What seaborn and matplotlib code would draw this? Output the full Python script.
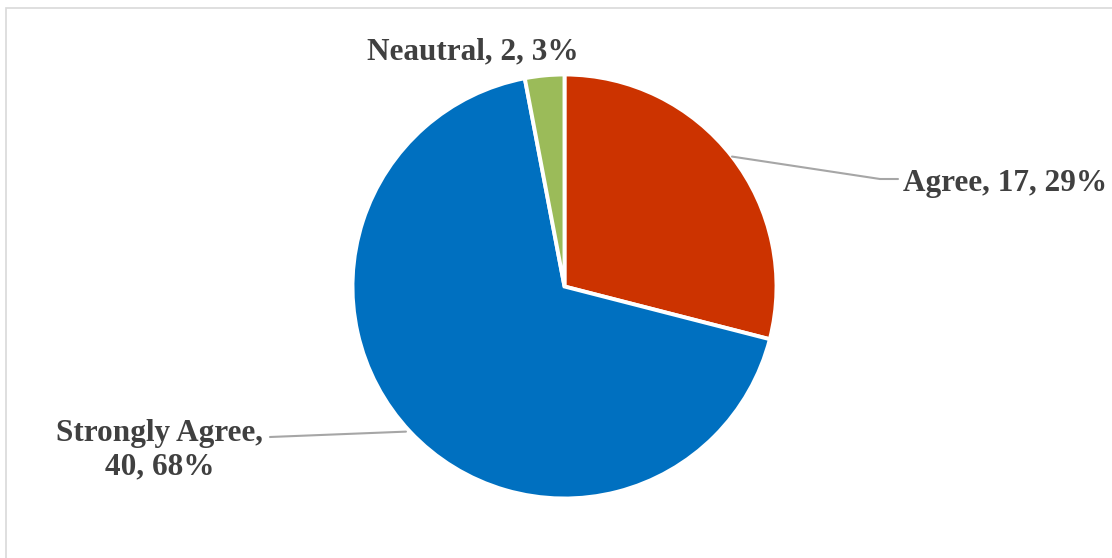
import numpy as np
import matplotlib
matplotlib.use("Agg")
import matplotlib.pyplot as plt
from matplotlib.patches import Rectangle
import seaborn as sns

sns.set_theme(style="white")
plt.rcParams['font.family'] = ['Liberation Serif', 'DejaVu Serif']

# data, in clockwise order from 12 o'clock (label spelling as in the source)
labels = ['Agree', 'Strongly Agree', 'Neautral']
counts = [17, 40, 2]
percents = [29, 68, 3]
colors = ['#CC3300', '#0070C0', '#9BBB59']

W, H = 1112, 558
CENTER = (564.5, H - 286.5)
RADIUS = 212
TEXT_COLOR = '#404040'
LINE_COLOR = '#A6A6A6'


def draw_pie():
    fig = plt.figure(figsize=(W / 100, H / 100), dpi=100)
    ax = fig.add_axes([0, 0, 1, 1])

    # chart area frame (runs off the right/bottom edge in the reference)
    fig.add_artist(Rectangle((6 / W, -0.1), 1.2, (H - 8) / H + 0.1,
                             transform=fig.transFigure, fill=False,
                             edgecolor='#D9D9D9', lw=1.2))

    # slice sizes follow the shown percentages
    wedges, _ = ax.pie(percents, colors=colors, startangle=90, counterclock=False,
                       center=CENTER, radius=RADIUS, frame=True,
                       wedgeprops=dict(edgecolor='white', linewidth=2.8))
    ax.set_xlim(0, W)
    ax.set_ylim(0, H)
    ax.set_aspect('equal')
    ax.axis('off')

    texts = [f'{lab}, {c}, {p}%' for lab, c, p in zip(labels, counts, percents)]
    font = dict(fontsize=22.5, fontweight='bold', color=TEXT_COLOR)

    # Agree: leader line to the right
    w = wedges[0]
    ang = np.deg2rad((w.theta1 + w.theta2) / 2)
    x0 = CENTER[0] + RADIUS * np.cos(ang)
    y0 = CENTER[1] + RADIUS * np.sin(ang)
    ax.plot([x0, 880, 898], [y0, H - 179, H - 179], color=LINE_COLOR, lw=1.5)
    ax.text(903, H - 183, texts[0], ha='left', va='center', **font)

    # Strongly Agree: leader line to the left, two-line label
    w = wedges[1]
    ang = np.deg2rad((w.theta1 + w.theta2) / 2)
    x0 = CENTER[0] + RADIUS * np.cos(ang) - 4
    y0 = CENTER[1] + RADIUS * np.sin(ang)
    ax.plot([x0, 270], [y0, H - 437], color=LINE_COLOR, lw=1.5)
    ax.text(160, H - 450, f'{labels[1]},\n{counts[1]}, {percents[1]}%',
            ha='center', va='center', linespacing=1.2, **font)

    # Neutral: label just above the slice
    ax.text(473, H - 52, texts[2], ha='center', va='center', **font)

    fig.savefig('out.png', dpi=100, facecolor='white')


def main():
    draw_pie()


if __name__ == '__main__':
    main()
